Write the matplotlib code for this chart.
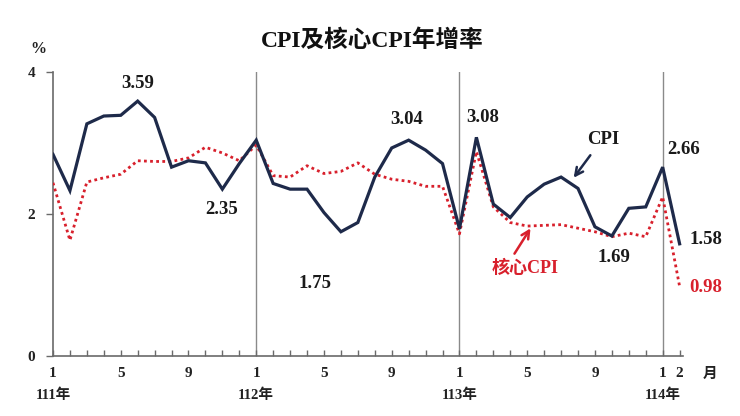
import matplotlib
matplotlib.use("Agg")
import matplotlib.pyplot as plt

# Data (111年1月 .. 114年2月)
cpi = [2.84, 2.33, 3.27, 3.38, 3.39, 3.59, 3.36, 2.66, 2.75, 2.72, 2.35, 2.71,
       3.04, 2.43, 2.35, 2.35, 2.02, 1.75, 1.88, 2.52, 2.93, 3.04, 2.90, 2.71,
       1.79, 3.08, 2.14, 1.95, 2.24, 2.42, 2.52, 2.36, 1.82, 1.69, 2.08, 2.10,
       2.66, 1.58]
core = [2.44, 1.63, 2.45, 2.51, 2.56, 2.75, 2.74, 2.74, 2.79, 2.94, 2.86, 2.75,
        2.97, 2.54, 2.52, 2.68, 2.57, 2.60, 2.72, 2.56, 2.49, 2.46, 2.39, 2.39,
        1.72, 2.88, 2.10, 1.88, 1.83, 1.84, 1.85, 1.80, 1.75, 1.68, 1.73, 1.68,
        2.24, 0.98]
month_labels = {0: "1", 4: "5", 8: "9", 12: "1", 16: "5", 20: "9", 24: "1",
                28: "5", 32: "9", 36: "1", 37: "2"}
year_labels = {0: "111年", 12: "112年", 24: "113年", 36: "114年"}
y_ticks = [0, 2, 4]

FAM = ['Liberation Serif', 'Noto Sans CJK TC', 'DejaVu Sans']
W, H = 740, 416
fig = plt.figure(figsize=(W / 100, H / 100), dpi=100)
fig.patch.set_facecolor('white')
ax = fig.add_axes([53 / W, (H - 356) / H, 630 / W, 284 / H])

x = list(range(len(cpi)))
navy = '#1e2a4a'
red = '#d8202c'
ax.plot(x, core, color=red, lw=2.0, linestyle=(0, (1.0, 1.2)),
        dash_capstyle='butt', zorder=3)
ax.plot(x, cpi, color=navy, lw=2.3, zorder=4, solid_joinstyle='miter')

for v in [12, 24, 36]:
    ax.axvline(v, ymin=0, ymax=1, color='#8a8a8a', lw=1.0, zorder=1)

ax.set_xlim(0, 37.2)
ax.set_ylim(0, 4)
for s in ['top', 'right']:
    ax.spines[s].set_visible(False)
for s in ['left', 'bottom']:
    ax.spines[s].set_color('#6a6a6a')
    ax.spines[s].set_linewidth(1.2)

ax.set_xticks(x)
ax.set_xticklabels([month_labels.get(i, "") for i in x])
ax.tick_params(axis='x', direction='in', length=4, width=1, color='#6a6a6a',
               pad=8)
ax.set_yticks(y_ticks)
ax.set_yticklabels([str(t) for t in y_ticks])
ax.tick_params(axis='y', direction='out', length=5, width=1, color='#6a6a6a',
               pad=8)
for lab in ax.get_xticklabels() + ax.get_yticklabels():
    lab.set_fontfamily(FAM)
    lab.set_fontweight('bold')
    lab.set_fontsize(11)
    lab.set_color('#222222')

def px(xp, yp):
    return xp / W, 1 - yp / H

for i, t in year_labels.items():
    ax.annotate(t, xy=(i, 0), xycoords='data', xytext=(0, -28),
                textcoords='offset points', ha='center', va='center',
                fontsize=10.5, fontweight='bold', family=FAM, color='#222222')
fig.text(*px(710, 374), "月", ha='center', va='center', fontsize=10.5,
         fontweight='bold', family=FAM, color='#222222')
fig.text(*px(38, 49), "%", ha='center', va='center', fontsize=11.5,
         fontweight='bold', family=FAM, color='#222222')
fig.text(*px(372, 40), "CPI及核心CPI年增率", ha='center', va='center',
         fontsize=17, fontweight='bold', family=FAM, color='#111111')

def lbl(xp, yp, t, c='#1a1a1a'):
    fig.text(*px(xp, yp), t, ha='center', va='center', fontsize=13.5,
             fontweight='bold', family=FAM, color=c)

lbl(138, 83, "3.59")
lbl(222, 209, "2.35")
lbl(315, 283, "1.75")
lbl(407, 120, "3.04")
lbl(483, 117, "3.08")
lbl(614, 258, "1.69")
lbl(684, 150, "2.66")
lbl(706, 240, "1.58")
lbl(706, 288, "0.98", red)
lbl(603, 140, "CPI")
fig.text(*px(525, 268), "核心CPI", ha='center', va='center', fontsize=13,
         fontweight='bold', family=FAM, color=red)

ax.annotate("", xy=px(572, 180), xycoords='figure fraction',
            xytext=px(592, 153), textcoords='figure fraction',
            arrowprops=dict(arrowstyle='->', color=navy, lw=1.8,
                            mutation_scale=14))
ax.annotate("", xy=px(532, 226), xycoords='figure fraction',
            xytext=px(513, 256), textcoords='figure fraction',
            arrowprops=dict(arrowstyle='->', color=red, lw=1.8,
                            mutation_scale=14))

fig.savefig("out.png", dpi=100, facecolor='white')
